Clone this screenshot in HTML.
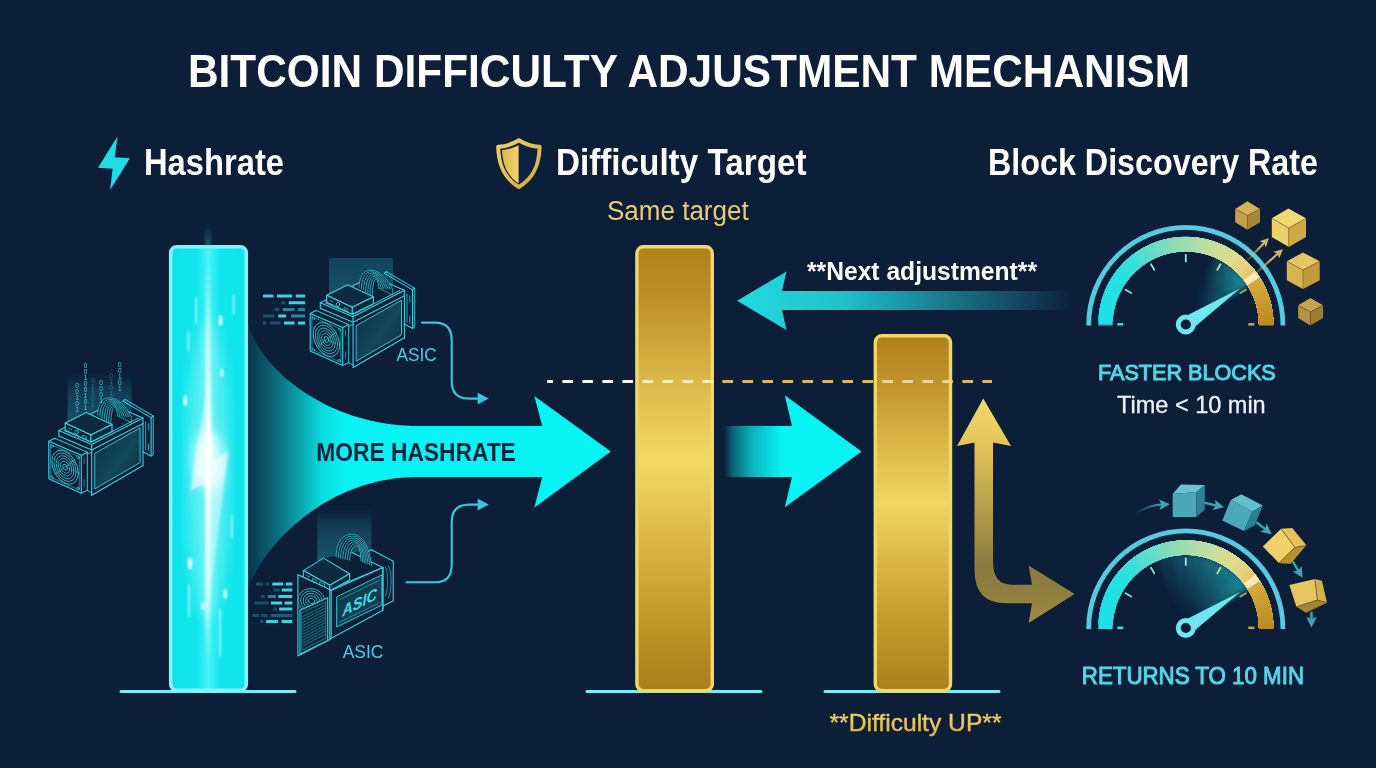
<!DOCTYPE html>
<html lang="en">
<head>
<meta charset="utf-8">
<title>Bitcoin Difficulty Adjustment Mechanism</title>
<style>
html,body{margin:0;padding:0;background:#0c1e38;}
body{width:1376px;height:768px;overflow:hidden;font-family:"Liberation Sans",sans-serif;}
svg{display:block;position:absolute;left:0;top:0;}
text{font-family:"Liberation Sans",sans-serif;}
.b{font-weight:bold;}
.w{fill:#ffffff;}
</style>
</head>
<body>
<svg width="1376" height="768" viewBox="0 0 1376 768">
<defs>
<radialGradient id="bg" cx="50%" cy="50%" r="75%">
<stop offset="0" stop-color="#0d203b"/><stop offset="1" stop-color="#0b1c34"/>
</radialGradient>
<linearGradient id="cyP" x1="0" x2="1" y1="0" y2="0">
<stop offset="0" stop-color="#0be2ea"/><stop offset="0.36" stop-color="#14e7ee"/><stop offset="0.5" stop-color="#4af3f6"/><stop offset="0.64" stop-color="#14e7ee"/><stop offset="1" stop-color="#0be2ea"/>
</linearGradient>
<linearGradient id="gold1" x1="0" x2="0" y1="0" y2="1">
<stop offset="0" stop-color="#b0801a"/><stop offset="0.12" stop-color="#bf9029"/><stop offset="0.305" stop-color="#dcb84a"/><stop offset="0.48" stop-color="#f3d964"/><stop offset="0.62" stop-color="#e0be4e"/><stop offset="0.79" stop-color="#c8a030"/><stop offset="0.92" stop-color="#b48a22"/><stop offset="1" stop-color="#aa7e1c"/>
</linearGradient>
<linearGradient id="gold2" x1="0" x2="0" y1="0" y2="1">
<stop offset="0" stop-color="#b0801a"/><stop offset="0.14" stop-color="#c2942c"/><stop offset="0.3" stop-color="#dab548"/><stop offset="0.47" stop-color="#f1d661"/><stop offset="0.62" stop-color="#dcb949"/><stop offset="0.8" stop-color="#c49c2e"/><stop offset="1" stop-color="#ab7f1c"/>
</linearGradient>

<linearGradient id="funG" gradientUnits="userSpaceOnUse" x1="248" x2="345" y1="0" y2="0">
<stop offset="0" stop-color="#08f3f4" stop-opacity="0.10"/><stop offset="0.35" stop-color="#08f3f4" stop-opacity="0.42"/><stop offset="0.75" stop-color="#08f3f4" stop-opacity="0.88"/><stop offset="1" stop-color="#08f3f4" stop-opacity="1"/>
</linearGradient>
<linearGradient id="midG" gradientUnits="userSpaceOnUse" x1="724" x2="782" y1="0" y2="0">
<stop offset="0" stop-color="#08f3f4" stop-opacity="0"/><stop offset="0.15" stop-color="#08f3f4" stop-opacity="0.32"/><stop offset="0.5" stop-color="#08f3f4" stop-opacity="0.72"/><stop offset="1" stop-color="#08f3f4" stop-opacity="1"/>
</linearGradient>
<linearGradient id="nextG" gradientUnits="userSpaceOnUse" x1="738" x2="1082" y1="0" y2="0">
<stop offset="0" stop-color="#22d9df" stop-opacity="1"/><stop offset="0.3" stop-color="#21cdd6" stop-opacity="0.94"/><stop offset="0.55" stop-color="#22bcc8" stop-opacity="0.66"/><stop offset="0.8" stop-color="#24b4c2" stop-opacity="0.30"/><stop offset="0.98" stop-color="#24b4c2" stop-opacity="0"/>
</linearGradient>
<linearGradient id="goldA" gradientUnits="userSpaceOnUse" x1="0" x2="0" y1="399" y2="625">
<stop offset="0" stop-color="#f3d96b"/><stop offset="0.22" stop-color="#e2c259"/><stop offset="0.5" stop-color="#b49b49"/><stop offset="0.74" stop-color="#8a7a3f"/><stop offset="0.86" stop-color="#8f7e3f"/><stop offset="1" stop-color="#a28c42"/>
</linearGradient>
<!--GDEFS_START-->
<filter id="blur3" x="-30%" y="-30%" width="160%" height="160%"><feGaussianBlur stdDeviation="3"/></filter>
<radialGradient id="g1W" gradientUnits="userSpaceOnUse" cx="1185.800" cy="324.500" r="76">
<stop offset="0.2" stop-color="#1b93a3" stop-opacity="0"/><stop offset="0.6" stop-color="#1b93a3" stop-opacity="0.35"/><stop offset="1" stop-color="#23a9b8" stop-opacity="0.85"/>
</radialGradient>
<radialGradient id="g2W" gradientUnits="userSpaceOnUse" cx="1185.800" cy="628" r="76">
<stop offset="0.15" stop-color="#1b93a3" stop-opacity="0"/><stop offset="0.55" stop-color="#1b93a3" stop-opacity="0.40"/><stop offset="1" stop-color="#23a9b8" stop-opacity="0.80"/>
</radialGradient>
<!--GDEFS_END-->
<!--CDEFS_START-->
<linearGradient id="ga1" gradientUnits="userSpaceOnUse" x1="1247" y1="260" x2="1262" y2="245"><stop offset="0" stop-color="#d2b662" stop-opacity="0.15"/><stop offset="1" stop-color="#d2b662" stop-opacity="1"/></linearGradient>
<linearGradient id="ga2" gradientUnits="userSpaceOnUse" x1="1256" y1="273" x2="1272" y2="259"><stop offset="0" stop-color="#d2b662" stop-opacity="0.25"/><stop offset="1" stop-color="#d2b662" stop-opacity="1"/></linearGradient>
<linearGradient id="ta0" gradientUnits="userSpaceOnUse" x1="1135" y1="0" x2="1162" y2="0"><stop offset="0" stop-color="#3ba6ba" stop-opacity="0"/><stop offset="1" stop-color="#3ba6ba" stop-opacity="1"/></linearGradient>
<!--CDEFS_END-->

<filter id="blur1" x="-50%" y="-10%" width="200%" height="120%"><feGaussianBlur stdDeviation="1"/></filter>
<filter id="blur2" x="-50%" y="-10%" width="200%" height="120%"><feGaussianBlur stdDeviation="2"/></filter>
<filter id="blur6" x="-50%" y="-50%" width="200%" height="200%"><feGaussianBlur stdDeviation="6"/></filter>
<linearGradient id="coreG" x1="0" x2="0" y1="0" y2="1">
<stop offset="0" stop-color="#fff" stop-opacity="0"/><stop offset="0.2" stop-color="#fff" stop-opacity="0.55"/><stop offset="0.5" stop-color="#fff" stop-opacity="1"/><stop offset="0.8" stop-color="#fff" stop-opacity="0.55"/><stop offset="1" stop-color="#fff" stop-opacity="0"/>
</linearGradient>
<linearGradient id="topGlow" x1="0" x2="0" y1="0" y2="1">
<stop offset="0" stop-color="#3fd8e0" stop-opacity="0"/><stop offset="1" stop-color="#3fd8e0" stop-opacity="0.32"/>
</linearGradient>
<clipPath id="pillClip"><rect x="172" y="248" width="72.500" height="439" rx="6"/></clipPath>

<linearGradient id="shG" x1="0" x2="1" y1="0" y2="1"><stop offset="0" stop-color="#f0d068"/><stop offset="1" stop-color="#d6aa40"/></linearGradient>
<linearGradient id="shF" x1="0" x2="1" y1="0" y2="0"><stop offset="0" stop-color="#deb64a"/><stop offset="1" stop-color="#f2d46c"/></linearGradient>
<!--MDEFS_START-->
<linearGradient id="m1side" x1="0" x2="1" y1="0" y2="1"><stop offset="0" stop-color="#0d2c40"/><stop offset="0.55" stop-color="#12485a"/><stop offset="1" stop-color="#0d2c40"/></linearGradient>
<linearGradient id="m3side" x1="0" x2="1" y1="0" y2="1"><stop offset="0" stop-color="#0d2c40"/><stop offset="0.55" stop-color="#114254"/><stop offset="1" stop-color="#0d2c40"/></linearGradient>
<clipPath id="m3fanclip"><polygon points="298.500,576 329,590.500 329,597 300.500,609.800 298.500,609.800"/></clipPath>
<linearGradient id="beamG" x1="0" x2="0" y1="0" y2="1"><stop offset="0" stop-color="#1c7a8c" stop-opacity="0.40"/><stop offset="1" stop-color="#1c7a8c" stop-opacity="0.62"/></linearGradient>
<linearGradient id="beamG2" x1="0" x2="0" y1="0" y2="1"><stop offset="0" stop-color="#1c7a8c" stop-opacity="0.0"/><stop offset="0.3" stop-color="#1c7a8c" stop-opacity="0.34"/><stop offset="1" stop-color="#1c7a8c" stop-opacity="0.66"/></linearGradient>
<!--MDEFS_END-->
<linearGradient id="txtGold" gradientUnits="userSpaceOnUse" x1="0" x2="0" y1="712" y2="736"><stop offset="0" stop-color="#f2da7c"/><stop offset="1" stop-color="#d8ae40"/></linearGradient>
<linearGradient id="dashG" gradientUnits="userSpaceOnUse" x1="547" x2="992" y1="0" y2="0">
<stop offset="0" stop-color="#f4f5f6"/><stop offset="0.197" stop-color="#f4f5f6"/><stop offset="0.198" stop-color="#fbf0b4"/><stop offset="0.375" stop-color="#fbf0b4"/><stop offset="0.376" stop-color="#d8b85c"/><stop offset="0.733" stop-color="#d8b85c"/><stop offset="0.734" stop-color="#ecd690"/><stop offset="0.910" stop-color="#ecd690"/><stop offset="0.911" stop-color="#d8b85c"/><stop offset="1" stop-color="#d8b85c"/>
</linearGradient>
<linearGradient id="boltG" gradientUnits="userSpaceOnUse" x1="0" x2="0" y1="372" y2="640"><stop offset="0" stop-color="#fff" stop-opacity="0.12"/><stop offset="0.2" stop-color="#fff" stop-opacity="0.42"/><stop offset="0.36" stop-color="#fff" stop-opacity="0.62"/><stop offset="0.55" stop-color="#fff" stop-opacity="0.45"/><stop offset="1" stop-color="#fff" stop-opacity="0.25"/></linearGradient>
<!--DEFS-->
</defs>
<rect width="1376" height="768" fill="#0c1e38"/>

<!-- base lines -->
<g stroke="#78ecf5" stroke-width="3" stroke-linecap="round">
<line x1="121" y1="691.500" x2="295" y2="691.500"/>
<line x1="587" y1="691.500" x2="761" y2="691.500"/>
<line x1="825" y1="691.500" x2="999" y2="691.500"/>
</g>

<!-- funnel arrow -->
<path d="M248,323 C259.900,369.200 326.600,423.600 412,425.900 L542.300,425.900 L534.300,396 L610.800,451.600 L534.300,507.600 L542.300,477 L415,477 C330.800,478.100 266.500,539.400 248,588 Z" fill="url(#funG)"/>
<!--FUNNEL-->

<!-- cyan pillar -->
<g id="cyanPillar">
<rect x="170.700" y="246.700" width="75.600" height="443.500" rx="6" fill="url(#cyP)" stroke="#80f5f9" stroke-width="3.600"/>
<rect x="205" y="226" width="6" height="20" fill="url(#topGlow)" filter="url(#blur1)"/>
<g clip-path="url(#pillClip)">
<ellipse cx="208" cy="470" rx="22" ry="150" fill="#b8fbfc" opacity="0.38" filter="url(#blur6)"/>
<ellipse cx="208.500" cy="460" rx="15" ry="30" fill="#ffffff" opacity="0.75" filter="url(#blur6)"/>
<polygon points="209,372 190,491.500 205.600,482.400 205,640 228.200,450.600 213.400,460.300 211,372" fill="url(#boltG)" filter="url(#blur1)"/>
<rect x="205.500" y="262" width="5" height="400" fill="url(#coreG)" filter="url(#blur1)"/>
<g fill="#ffffff" filter="url(#blur1)" opacity="0.9">
<ellipse cx="220.600" cy="320.600" rx="1.800" ry="5.500"/>
<ellipse cx="185.300" cy="400.600" rx="2" ry="5.500"/>
<ellipse cx="221.900" cy="373" rx="1.400" ry="4"/>
<ellipse cx="190" cy="563.400" rx="2.200" ry="6"/>
<ellipse cx="225.200" cy="593.900" rx="1.800" ry="4.500"/>
<ellipse cx="203.200" cy="606.400" rx="1.600" ry="3.500"/>
</g>
<g stroke="#d8fefe" stroke-width="1.600" stroke-linecap="round" filter="url(#blur1)" opacity="0.8">
<line x1="196.200" y1="298" x2="196.200" y2="323"/>
<line x1="233.700" y1="295" x2="233.700" y2="314"/>
<line x1="188.400" y1="332" x2="188.400" y2="351"/>
<line x1="232" y1="516" x2="232" y2="538"/>
<line x1="189" y1="585" x2="189" y2="616"/>
<line x1="220" y1="609" x2="220" y2="656"/>
</g>
</g>
<!--PILLARFX-->
</g>

<!-- gold pillars -->
<rect x="636.900" y="246.700" width="75.400" height="444" rx="6.500" fill="url(#gold1)" stroke="#f3d668" stroke-width="3.400"/>
<rect x="875.300" y="335.700" width="75.200" height="355" rx="6.500" fill="url(#gold2)" stroke="#f3d668" stroke-width="3.400"/>

<!-- middle arrow -->
<path d="M724,426 L792,426 L784.800,395.200 L861.500,451.500 L784.800,507.300 L792,477 L724,477 Z" fill="url(#midG)"/>
<!-- next adjustment arrow -->
<path d="M737.100,300.700 L786.500,271.400 L782,291.100 L1095,291.100 L1095,310.100 L782,310.100 L786.500,330 Z" fill="url(#nextG)"/>
<!-- gold L arrow -->
<path d="M983.300,398.600 L1011,446 L993,442.600 L993,562 Q993,584.700 1012,584.700 L1032,584.700 L1028.600,565.400 L1074.600,594 L1028.600,623 L1032,603.300 L1006,603.300 Q974.500,603.300 974.500,570 L974.500,442.600 L957,446 Z" fill="url(#goldA)"/>
<!--ARROWS-->
<!-- dashed target line -->
<line x1="547.200" y1="381.400" x2="992" y2="381.400" stroke="url(#dashG)" stroke-width="3" stroke-dasharray="10.700 9.300" stroke-dashoffset="4.800"/>
<!--DASH-->
<!--MINERS_START-->
<rect x="329" y="258" width="64" height="50" fill="url(#beamG)"/>
<g fill="none" stroke="#35d3e2" stroke-width="1.100" stroke-linejoin="round" stroke-linecap="round">
<path d="M320.3,302.7 L371.6,276.2 L404.4,290.2 L404.4,337.8 L353.1,367.5 L320.3,353.5 Z" fill="#0c2038" stroke="none"/>
<path d="M384.4,273.4 L412.5,289.9 L412.5,328.4 L404.4,324.0"/>
<path d="M386.5,271.8 L414.6,288.3 L414.6,326.8 L412.5,328.4" opacity="0.8"/>
<path d="M384.4,273.4 L386.5,271.8"/>
<path d="M412.5,289.9 L414.6,288.3"/>
<path d="M407.0,294.0 L407.0,322.0" opacity="0.7"/>
<path d="M409.8,296.0 L409.8,302.0" opacity="0.7"/>
<path d="M409.8,316.0 L409.8,323.0" opacity="0.7"/>
<path d="M320.3,302.7 L353.1,316.7 L404.4,290.2 L371.6,276.2 Z"/>
<path d="M325.5,302.9 L353.1,314.4 L399.6,290.4" opacity="0.8"/>
<path d="M320.3,308.2 L353.1,322.2 L404.4,295.7"/>
<path d="M320.3,302.7 L320.3,308.2"/>
<path d="M353.1,316.7 L353.1,367.5"/>
<path d="M404.4,290.2 L404.4,337.8"/>
<path d="M353.1,367.5 L404.4,337.8"/>
<path d="M356.5,325.5 L401.5,300.2 L401.5,334.8 L356.5,361.0 Z" fill="url(#m1side)" stroke-width="0.900"/>
<path d="M359.0,287.2 C359.3,276.9 363.5,270.1 370.3,270.1 C380.4,270.3 387.1,278.7 392.7,289.2 L379.0,288.2 C378.3,283.4 377.4,279.6 376.1,279.4 C373.8,279.4 372.5,286.0 372.2,296.0 Z" fill="#0d2a3e" stroke="none"/>
<path d="M359.0,287.2 C359.3,276.9 363.5,270.1 370.3,270.1 C380.4,270.3 387.1,278.7 392.7,289.2" stroke-width="0.800" opacity="0.9"/>
<path d="M361.2,288.7 C361.5,278.5 365.2,271.7 371.3,271.7 C379.9,271.9 385.6,279.5 390.4,289.0" stroke-width="0.800" opacity="0.9"/>
<path d="M363.4,290.1 C363.7,280.0 366.9,273.2 372.2,273.2 C379.4,273.4 384.2,280.2 388.1,288.9" stroke-width="0.800" opacity="0.9"/>
<path d="M365.6,291.6 C365.9,281.5 368.6,274.8 373.2,274.8 C378.9,274.9 382.7,281.0 385.8,288.7" stroke-width="0.800" opacity="0.9"/>
<path d="M367.8,293.1 C368.1,283.0 370.3,276.3 374.2,276.3 C378.4,276.5 381.2,281.8 383.6,288.5" stroke-width="0.800" opacity="0.9"/>
<path d="M370.0,294.5 C370.3,284.5 372.1,277.9 375.1,277.9 C377.9,278.1 379.7,282.6 381.3,288.4" stroke-width="0.800" opacity="0.9"/>
<path d="M372.2,296.0 C372.5,286.0 373.8,279.4 376.1,279.4 C377.4,279.6 378.3,283.4 379.0,288.2" stroke-width="0.800" opacity="0.9"/>
<path d="M379.0,288.2 L392.7,295.0 L392.7,289.2" stroke-width="0.800" opacity="0.8"/>
<path d="M326.6,295.3 L347.7,284.8 L373.4,296.8 L352.3,307.3 Z" fill="#0e2a40"/>
<path d="M326.6,295.3 L352.3,307.3 L352.3,314.3 L326.6,302.3 Z" fill="#0c2238"/>
<path d="M352.3,307.3 L373.4,296.8 L373.4,303.8 L352.3,314.3 Z" fill="#0d2840"/>
<ellipse cx="338" cy="304.500" rx="1.800" ry="2" stroke-width="0.800"/>
<path d="M344.5,307.5 L348.0,309.1 L348.0,311.5 L344.5,309.9 Z" stroke-width="0.700"/>
<path d="M330.0,300.5 L333.0,301.9" stroke-width="0.700"/>
<path d="M316.2,310.6 L348.7,324.5 L348.7,362.5 L342.7,365.5" opacity="0.85"/>
<path d="M310.2,313.6 L316.2,310.6"/>
<path d="M342.7,327.5 L348.7,324.5"/>
<path d="M348.7,326.5 L353.1,324.3" opacity="0.7"/>
<path d="M348.7,362.5 L353.1,365.2" opacity="0.7"/>
<path d="M310.2,313.6 L342.7,327.5 L342.7,365.5 L310.2,351.0 Z" fill="#0c2038"/>
<path d="M312.2,316.8 L340.7,329.0 L340.7,362.3 L312.2,349.6 Z" stroke-width="0.700" opacity="0.75"/>
<g transform="matrix(1,0.427,0,1,326.450,339.500)" stroke-width="0.800">
<ellipse cx="0" cy="0" rx="13.2" ry="16.0" opacity="1.00"/>
<ellipse cx="0" cy="0" rx="11.1" ry="13.5" opacity="0.90"/>
<ellipse cx="0" cy="0" rx="8.9" ry="10.9" opacity="0.90"/>
<ellipse cx="0" cy="0" rx="6.8" ry="8.3" opacity="0.85"/>
<ellipse cx="0" cy="0" rx="4.7" ry="5.7" opacity="0.85"/>
<ellipse cx="0" cy="0" rx="2.3" ry="2.8" opacity="1.00"/>
<path d="M-9.500,11.500 L9.500,-11.500" stroke-width="0.700" opacity="0.8"/>
<circle cx="-13" cy="-15.500" r="1.200" stroke-width="0.600"/><circle cx="13" cy="-15.500" r="1.200" stroke-width="0.600"/><circle cx="-13" cy="15.500" r="1.200" stroke-width="0.600"/><circle cx="13" cy="15.500" r="1.200" stroke-width="0.600"/>
</g>
<path d="M345.5,330.0 L345.5,336.0" stroke-width="0.700" opacity="0.7"/>
<path d="M345.5,352.0 L345.5,359.0" stroke-width="0.700" opacity="0.7"/>
</g>
<rect x="262.9" y="294.5" width="10.5" height="3.0" rx="0.600" fill="#3fdce8" opacity="0.95"/>
<rect x="276.9" y="294.5" width="15.3" height="3.0" rx="0.600" fill="#3fdce8" opacity="0.95"/>
<rect x="295.7" y="294.5" width="9.4" height="3.0" rx="0.600" fill="#3fdce8" opacity="0.95"/>
<rect x="281.6" y="301.3" width="3.5" height="3.0" rx="0.600" fill="#3fdce8" opacity="0.28"/>
<rect x="288.7" y="301.3" width="16.4" height="3.0" rx="0.600" fill="#3fdce8" opacity="0.95"/>
<rect x="274.6" y="307.9" width="4.7" height="3.0" rx="0.600" fill="#3fdce8" opacity="0.28"/>
<rect x="282.8" y="307.9" width="11.7" height="3.0" rx="0.600" fill="#3fdce8" opacity="0.55"/>
<rect x="298.0" y="307.9" width="7.1" height="3.0" rx="0.600" fill="#3fdce8" opacity="0.55"/>
<rect x="262.9" y="314.5" width="11.7" height="3.0" rx="0.600" fill="#3fdce8" opacity="0.28"/>
<rect x="278.1" y="314.5" width="8.2" height="3.0" rx="0.600" fill="#3fdce8" opacity="0.95"/>
<rect x="291.0" y="314.5" width="14.1" height="3.0" rx="0.600" fill="#3fdce8" opacity="0.55"/>
<rect x="262.9" y="321.5" width="3.5" height="3.0" rx="0.600" fill="#3fdce8" opacity="0.28"/>
<rect x="269.9" y="321.5" width="10.6" height="3.0" rx="0.600" fill="#3fdce8" opacity="0.28"/>
<rect x="284.0" y="321.5" width="10.5" height="3.0" rx="0.600" fill="#3fdce8" opacity="0.95"/>
<rect x="298.0" y="321.5" width="7.1" height="3.0" rx="0.600" fill="#3fdce8" opacity="0.95"/>
<g transform="translate(-261.400,127.700)">
<rect x="329" y="246" width="64" height="62" fill="url(#beamG2)"/>
<g fill="none" stroke="#35d3e2" stroke-width="1.100" stroke-linejoin="round" stroke-linecap="round">
<path d="M320.3,302.7 L371.6,276.2 L404.4,290.2 L404.4,337.8 L353.1,367.5 L320.3,353.5 Z" fill="#0c2038" stroke="none"/>
<path d="M384.4,273.4 L412.5,289.9 L412.5,328.4 L404.4,324.0"/>
<path d="M386.5,271.8 L414.6,288.3 L414.6,326.8 L412.5,328.4" opacity="0.8"/>
<path d="M384.4,273.4 L386.5,271.8"/>
<path d="M412.5,289.9 L414.6,288.3"/>
<path d="M407.0,294.0 L407.0,322.0" opacity="0.7"/>
<path d="M409.8,296.0 L409.8,302.0" opacity="0.7"/>
<path d="M409.8,316.0 L409.8,323.0" opacity="0.7"/>
<path d="M320.3,302.7 L353.1,316.7 L404.4,290.2 L371.6,276.2 Z"/>
<path d="M325.5,302.9 L353.1,314.4 L399.6,290.4" opacity="0.8"/>
<path d="M320.3,308.2 L353.1,322.2 L404.4,295.7"/>
<path d="M320.3,302.7 L320.3,308.2"/>
<path d="M353.1,316.7 L353.1,367.5"/>
<path d="M404.4,290.2 L404.4,337.8"/>
<path d="M353.1,367.5 L404.4,337.8"/>
<path d="M356.5,325.5 L401.5,300.2 L401.5,334.8 L356.5,361.0 Z" fill="url(#m1side)" stroke-width="0.900"/>
<path d="M359.0,287.2 C359.3,276.9 363.5,270.1 370.3,270.1 C380.4,270.3 387.1,278.7 392.7,289.2 L379.0,288.2 C378.3,283.4 377.4,279.6 376.1,279.4 C373.8,279.4 372.5,286.0 372.2,296.0 Z" fill="#0d2a3e" stroke="none"/>
<path d="M359.0,287.2 C359.3,276.9 363.5,270.1 370.3,270.1 C380.4,270.3 387.1,278.7 392.7,289.2" stroke-width="0.800" opacity="0.9"/>
<path d="M361.2,288.7 C361.5,278.5 365.2,271.7 371.3,271.7 C379.9,271.9 385.6,279.5 390.4,289.0" stroke-width="0.800" opacity="0.9"/>
<path d="M363.4,290.1 C363.7,280.0 366.9,273.2 372.2,273.2 C379.4,273.4 384.2,280.2 388.1,288.9" stroke-width="0.800" opacity="0.9"/>
<path d="M365.6,291.6 C365.9,281.5 368.6,274.8 373.2,274.8 C378.9,274.9 382.7,281.0 385.8,288.7" stroke-width="0.800" opacity="0.9"/>
<path d="M367.8,293.1 C368.1,283.0 370.3,276.3 374.2,276.3 C378.4,276.5 381.2,281.8 383.6,288.5" stroke-width="0.800" opacity="0.9"/>
<path d="M370.0,294.5 C370.3,284.5 372.1,277.9 375.1,277.9 C377.9,278.1 379.7,282.6 381.3,288.4" stroke-width="0.800" opacity="0.9"/>
<path d="M372.2,296.0 C372.5,286.0 373.8,279.4 376.1,279.4 C377.4,279.6 378.3,283.4 379.0,288.2" stroke-width="0.800" opacity="0.9"/>
<path d="M379.0,288.2 L392.7,295.0 L392.7,289.2" stroke-width="0.800" opacity="0.8"/>
<path d="M326.6,295.3 L347.7,284.8 L373.4,296.8 L352.3,307.3 Z" fill="#0e2a40"/>
<path d="M326.6,295.3 L352.3,307.3 L352.3,314.3 L326.6,302.3 Z" fill="#0c2238"/>
<path d="M352.3,307.3 L373.4,296.8 L373.4,303.8 L352.3,314.3 Z" fill="#0d2840"/>
<ellipse cx="338" cy="304.500" rx="1.800" ry="2" stroke-width="0.800"/>
<path d="M344.5,307.5 L348.0,309.1 L348.0,311.5 L344.5,309.9 Z" stroke-width="0.700"/>
<path d="M330.0,300.5 L333.0,301.9" stroke-width="0.700"/>
<path d="M316.2,310.6 L348.7,324.5 L348.7,362.5 L342.7,365.5" opacity="0.85"/>
<path d="M310.2,313.6 L316.2,310.6"/>
<path d="M342.7,327.5 L348.7,324.5"/>
<path d="M348.7,326.5 L353.1,324.3" opacity="0.7"/>
<path d="M348.7,362.5 L353.1,365.2" opacity="0.7"/>
<path d="M310.2,313.6 L342.7,327.5 L342.7,365.5 L310.2,351.0 Z" fill="#0c2038"/>
<path d="M312.2,316.8 L340.7,329.0 L340.7,362.3 L312.2,349.6 Z" stroke-width="0.700" opacity="0.75"/>
<g transform="matrix(1,0.427,0,1,326.450,339.500)" stroke-width="0.800">
<ellipse cx="0" cy="0" rx="13.2" ry="16.0" opacity="1.00"/>
<ellipse cx="0" cy="0" rx="11.1" ry="13.5" opacity="0.90"/>
<ellipse cx="0" cy="0" rx="8.9" ry="10.9" opacity="0.90"/>
<ellipse cx="0" cy="0" rx="6.8" ry="8.3" opacity="0.85"/>
<ellipse cx="0" cy="0" rx="4.7" ry="5.7" opacity="0.85"/>
<ellipse cx="0" cy="0" rx="2.3" ry="2.8" opacity="1.00"/>
<path d="M-9.500,11.500 L9.500,-11.500" stroke-width="0.700" opacity="0.8"/>
<circle cx="-13" cy="-15.500" r="1.200" stroke-width="0.600"/><circle cx="13" cy="-15.500" r="1.200" stroke-width="0.600"/><circle cx="-13" cy="15.500" r="1.200" stroke-width="0.600"/><circle cx="13" cy="15.500" r="1.200" stroke-width="0.600"/>
</g>
<path d="M345.5,330.0 L345.5,336.0" stroke-width="0.700" opacity="0.7"/>
<path d="M345.5,352.0 L345.5,359.0" stroke-width="0.700" opacity="0.7"/>
</g>
</g>
<g font-size="6.500" fill="#5fdfe8" text-anchor="middle">
<text opacity="0.85"><tspan x="77.0" y="388.0">0</tspan><tspan x="77.0" y="394.0">0</tspan><tspan x="77.0" y="400.0">1</tspan><tspan x="77.0" y="406.0">0</tspan><tspan x="77.0" y="412.0">1</tspan></text>
<text opacity="0.90"><tspan x="85.6" y="368.0">0</tspan><tspan x="85.6" y="374.0">0</tspan><tspan x="85.6" y="380.0">1</tspan><tspan x="85.6" y="386.0">0</tspan><tspan x="85.6" y="392.0">0</tspan><tspan x="85.6" y="398.0">1</tspan><tspan x="85.6" y="404.0">0</tspan><tspan x="85.6" y="410.0">1</tspan></text>
<text opacity="0.35"><tspan x="92.8" y="382.5">0</tspan><tspan x="92.8" y="388.5">1</tspan><tspan x="92.8" y="394.5">1</tspan><tspan x="92.8" y="400.5">0</tspan><tspan x="92.8" y="406.5">1</tspan></text>
<text opacity="0.85"><tspan x="101.0" y="385.0">0</tspan><tspan x="101.0" y="391.0">0</tspan><tspan x="101.0" y="397.0">0</tspan><tspan x="101.0" y="403.0">1</tspan></text>
<text opacity="0.35"><tspan x="111.0" y="378.0">0</tspan><tspan x="111.0" y="384.0">1</tspan><tspan x="111.0" y="390.0">0</tspan><tspan x="111.0" y="396.0">1</tspan></text>
<text opacity="0.90"><tspan x="119.8" y="367.0">0</tspan><tspan x="119.8" y="373.0">0</tspan><tspan x="119.8" y="379.0">1</tspan><tspan x="119.8" y="385.0">0</tspan><tspan x="119.8" y="391.0">1</tspan></text>
</g>
<rect x="317.300" y="509" width="54.200" height="56" fill="url(#beamG2)"/>
<g fill="none" stroke="#35d3e2" stroke-width="1.100" stroke-linejoin="round" stroke-linecap="round">
<path d="M297.9,574.8 L323.5,558.1 L371.5,549.8 L393.3,561.2 L393.3,600.8 L382.9,610.2 L331.2,638.3 L297.9,656.0 Z" fill="#0c2038" stroke="none"/>
<path d="M371.5,549.8 L393.3,561.2 L393.3,600.8 L382.9,606.0"/>
<path d="M368.5,551.5 L371.5,549.8"/>
<path d="M388.500,566 C392,572 392,590 388.500,598" stroke-width="0.800" opacity="0.8"/>
<path d="M385.500,567 C388.500,574 388.500,588 385.500,596" stroke-width="0.800" opacity="0.7"/>
<path d="M297.9,574.8 L329.8,589.4 L382.9,567.5 L352.0,552.5"/>
<path d="M382.9,567.5 L382.9,610.2"/>
<path d="M336.0,557.0 C336.5,542.2 342.3,534.2 351.7,534.2 C362.6,534.4 369.5,546.7 371.5,565.4 L361.0,561.2 C360.6,551.8 359.2,545.8 356.9,545.6 C352.5,545.6 350.1,550.7 349.6,560.2 Z" fill="#0d2a3e" stroke="none"/>
<path d="M336.0,557.0 C336.5,542.2 342.3,534.2 351.7,534.2 C362.6,534.4 369.5,546.7 371.5,565.4" stroke-width="0.800" opacity="0.9"/>
<path d="M338.3,557.5 C338.8,543.6 344.0,536.1 352.6,536.1 C362.0,536.3 368.0,547.5 369.8,564.7" stroke-width="0.800" opacity="0.9"/>
<path d="M340.5,558.1 C341.0,545.0 345.7,538.0 353.4,538.0 C361.4,538.2 366.5,548.4 368.0,564.0" stroke-width="0.800" opacity="0.9"/>
<path d="M342.8,558.6 C343.3,546.4 347.4,539.9 354.3,539.9 C360.9,540.1 365.1,549.3 366.2,563.3" stroke-width="0.800" opacity="0.9"/>
<path d="M345.1,559.1 C345.6,547.9 349.1,541.8 355.2,541.8 C360.3,542.0 363.6,550.1 364.5,562.6" stroke-width="0.800" opacity="0.9"/>
<path d="M347.3,559.7 C347.8,549.3 350.8,543.7 356.0,543.7 C359.7,543.9 362.1,551.0 362.8,561.9" stroke-width="0.800" opacity="0.9"/>
<path d="M349.6,560.2 C350.1,550.7 352.5,545.6 356.9,545.6 C359.2,545.8 360.6,551.8 361.0,561.2" stroke-width="0.800" opacity="0.9"/>
<path d="M331.2,590.4 L382.9,567.5 L382.9,610.2 L331.2,638.3 Z"/>
<path d="M337.0,596.7 L381.9,574.8 L381.9,605.0 L337.0,626.9 Z" fill="url(#m3side)" stroke-width="0.900"/>
<path d="M340.0,599.5 L379.0,580.5" stroke-width="0.700" opacity="0.7"/>
<path d="M340.0,622.0 L379.0,603.0" stroke-width="0.700" opacity="0.7"/>
<path d="M303.3,570.6 L323.5,558.1 L349.6,573.8 L329.8,585.2 Z" fill="#0e2a40"/>
<path d="M303.3,570.6 L329.8,585.2 L329.8,590.8 L303.3,576.9 Z" fill="#0c2238"/>
<path d="M329.8,585.2 L349.6,573.8 L349.6,580.0 L329.8,590.8 Z" fill="#0d2840"/>
<path d="M313.0,578.5 L316.0,580.0 L316.0,583.0 L313.0,581.5 Z" stroke-width="0.700"/>
<path d="M320.0,582.0 L324.5,584.3 L324.5,587.0 L320.0,584.7 Z" stroke-width="0.700"/>
<path d="M306.5,575.5 L309.5,577.0" stroke-width="0.700"/>
<path d="M297.9,574.8 L329.8,589.4 L329.8,639.4 L297.9,656.0 Z" fill="#0c2038"/>
<path d="M329.8,589.4 L331.2,590.4"/>
<path d="M329.8,639.4 L331.2,638.3"/>
<g clip-path="url(#m3fanclip)" stroke-width="0.800" opacity="0.9">
<ellipse cx="311.500" cy="601" rx="3.2" ry="2.8" transform="rotate(20 311.500 601)"/>
<ellipse cx="311.500" cy="601" rx="5.8" ry="5.2" transform="rotate(20 311.500 601)"/>
<ellipse cx="311.500" cy="601" rx="8.4" ry="7.6" transform="rotate(20 311.500 601)"/>
<ellipse cx="311.500" cy="601" rx="11.0" ry="10.0" transform="rotate(20 311.500 601)"/>
<ellipse cx="311.500" cy="601" rx="13.7" ry="12.3" transform="rotate(20 311.500 601)"/>
</g>
<path d="M300.0,610.2 L327.7,597.7 L327.7,640.4 L300.0,654.0 Z" fill="#0d2a3e"/>
<path d="M302.0,612.5 L325.7,601.8 L325.7,638.3 L302.0,650.0 Z" stroke-width="0.600" opacity="0.7"/>
<path d="M303,616.5 L324.700,605.7" stroke-width="0.600" opacity="0.75" stroke-dasharray="3.200 1.100"/>
<path d="M303,619.4 L324.700,608.5" stroke-width="0.600" opacity="0.75" stroke-dasharray="3.200 1.100"/>
<path d="M303,622.4 L324.700,611.4" stroke-width="0.600" opacity="0.75" stroke-dasharray="3.200 1.100"/>
<path d="M303,625.3 L324.700,614.3" stroke-width="0.600" opacity="0.75" stroke-dasharray="3.200 1.100"/>
<path d="M303,628.3 L324.700,617.2" stroke-width="0.600" opacity="0.75" stroke-dasharray="3.200 1.100"/>
<path d="M303,631.2 L324.700,620.0" stroke-width="0.600" opacity="0.75" stroke-dasharray="3.200 1.100"/>
<path d="M303,634.2 L324.700,622.9" stroke-width="0.600" opacity="0.75" stroke-dasharray="3.200 1.100"/>
<path d="M303,637.2 L324.700,625.8" stroke-width="0.600" opacity="0.75" stroke-dasharray="3.200 1.100"/>
<path d="M303,640.1 L324.700,628.7" stroke-width="0.600" opacity="0.75" stroke-dasharray="3.200 1.100"/>
<path d="M303,643.1 L324.700,631.5" stroke-width="0.600" opacity="0.75" stroke-dasharray="3.200 1.100"/>
<path d="M303,646.0 L324.700,634.4" stroke-width="0.600" opacity="0.75" stroke-dasharray="3.200 1.100"/>
</g>
<text class="b" transform="matrix(0.890,-0.459,0,1,342.300,616.800)" x="0" y="0" font-size="16" font-style="italic" fill="#46dbe8" textLength="39" lengthAdjust="spacingAndGlyphs">ASIC</text>
<rect x="256.1" y="582.5" width="7.4" height="3.0" rx="0.600" fill="#3fdce8" opacity="0.28"/>
<rect x="266.0" y="582.5" width="3.2" height="3.0" rx="0.600" fill="#3fdce8" opacity="0.28"/>
<rect x="272.2" y="582.5" width="11.1" height="3.0" rx="0.600" fill="#3fdce8" opacity="0.95"/>
<rect x="285.8" y="582.5" width="6.6" height="3.0" rx="0.600" fill="#3fdce8" opacity="0.95"/>
<rect x="273.4" y="588.5" width="6.2" height="3.0" rx="0.600" fill="#3fdce8" opacity="0.28"/>
<rect x="281.6" y="588.5" width="10.8" height="3.0" rx="0.600" fill="#3fdce8" opacity="0.95"/>
<rect x="261.0" y="594.9" width="3.7" height="3.0" rx="0.600" fill="#3fdce8" opacity="0.28"/>
<rect x="267.7" y="594.9" width="8.2" height="3.0" rx="0.600" fill="#3fdce8" opacity="0.55"/>
<rect x="278.3" y="594.9" width="14.1" height="3.0" rx="0.600" fill="#3fdce8" opacity="0.95"/>
<rect x="254.8" y="601.5" width="13.7" height="3.0" rx="0.600" fill="#3fdce8" opacity="0.28"/>
<rect x="270.9" y="601.5" width="11.2" height="3.0" rx="0.600" fill="#3fdce8" opacity="0.95"/>
<rect x="284.5" y="601.5" width="7.9" height="3.0" rx="0.600" fill="#3fdce8" opacity="0.95"/>
<rect x="273.4" y="607.5" width="3.7" height="3.0" rx="0.600" fill="#3fdce8" opacity="0.28"/>
<rect x="279.1" y="607.5" width="13.3" height="3.0" rx="0.600" fill="#3fdce8" opacity="0.95"/>
<rect x="252.4" y="613.9" width="6.9" height="3.0" rx="0.600" fill="#3fdce8" opacity="0.28"/>
<rect x="261.0" y="613.9" width="6.7" height="3.0" rx="0.600" fill="#3fdce8" opacity="0.28"/>
<rect x="270.9" y="613.9" width="21.5" height="3.0" rx="0.600" fill="#3fdce8" opacity="0.35"/>
<rect x="259.8" y="620.1" width="3.7" height="3.0" rx="0.600" fill="#3fdce8" opacity="0.28"/>
<rect x="266.0" y="620.1" width="12.3" height="3.0" rx="0.600" fill="#3fdce8" opacity="0.95"/>
<rect x="281.6" y="620.1" width="10.8" height="3.0" rx="0.600" fill="#3fdce8" opacity="0.95"/>
<g fill="none" stroke="#36c8dc" stroke-width="2.100" stroke-linecap="round">
<path d="M422,322.600 L435,322.600 Q451.700,322.600 451.700,340 L451.700,381.500 Q451.700,398.600 469,398.600 L479,398.600"/>
<path d="M406.500,582.300 L435,582.300 Q451.700,582.300 451.700,565 L451.700,522 Q451.700,504.600 469,504.600 L479,504.600"/>
</g>
<polygon points="488.800,398.600 477.600,392.800 477.600,404.400" fill="#36c8dc"/>
<polygon points="488.800,504.600 477.600,498.800 477.600,510.400" fill="#36c8dc"/>
<!--MINERS_END-->
<!--MINERS-->
<!--GAUGES_START-->
<g id="g1">
<path d="M1185.8,324.5 L1248.1,284.6 A74,74 0 0 0 1243.1,277.7 Z" fill="url(#g1W)" opacity="0.30" filter="url(#blur3)"/>
<path d="M1185.8,324.5 L1248.1,284.6 A74,74 0 0 0 1238.2,272.2 Z" fill="url(#g1W)" opacity="0.30" filter="url(#blur3)"/>
<path d="M1185.8,324.5 L1248.1,284.6 A74,74 0 0 0 1232.8,267.3 Z" fill="url(#g1W)" opacity="0.30" filter="url(#blur3)"/>
<path d="M1185.8,324.5 L1248.1,284.6 A74,74 0 0 0 1226.9,263.0 Z" fill="url(#g1W)" opacity="0.30" filter="url(#blur3)"/>
<path d="M1185.8,324.5 L1248.1,284.6 A74,74 0 0 0 1220.6,259.2 Z" fill="url(#g1W)" opacity="0.30" filter="url(#blur3)"/>
<path d="M1185.8,324.5 L1248.1,284.6 A74,74 0 0 0 1214.0,256.1 Z" fill="url(#g1W)" opacity="0.30" filter="url(#blur3)"/>
<path d="M1088.70,325.50 L1088.70,324.50 A97.10,97.10 0 0 1 1282.90,324.50 L1282.90,325.50" fill="none" stroke="#54cbe1" stroke-width="4.800"/>
<path d="M1098.20,324.50 A87.60,87.60 0 0 1 1273.40,324.50 L1259.00,324.50 A73.20,73.20 0 0 0 1112.60,324.50 Z" fill="#1ee0e8"/>
<path d="M1098.28,320.68 A87.60,87.60 0 0 1 1273.40,324.50 L1259.00,324.50 A73.20,73.20 0 0 0 1112.67,321.31 Z" fill="#1fe0e8"/>
<path d="M1098.53,316.87 A87.60,87.60 0 0 1 1273.40,324.50 L1259.00,324.50 A73.20,73.20 0 0 0 1112.88,318.12 Z" fill="#1fe0e7"/>
<path d="M1098.95,313.07 A87.60,87.60 0 0 1 1273.40,324.50 L1259.00,324.50 A73.20,73.20 0 0 0 1113.23,314.95 Z" fill="#20e0e7"/>
<path d="M1099.53,309.29 A87.60,87.60 0 0 1 1273.40,324.50 L1259.00,324.50 A73.20,73.20 0 0 0 1113.71,311.79 Z" fill="#20e0e7"/>
<path d="M1100.28,305.54 A87.60,87.60 0 0 1 1273.40,324.50 L1259.00,324.50 A73.20,73.20 0 0 0 1114.34,308.66 Z" fill="#21e0e7"/>
<path d="M1101.18,301.83 A87.60,87.60 0 0 1 1273.40,324.50 L1259.00,324.50 A73.20,73.20 0 0 0 1115.09,305.55 Z" fill="#21e0e6"/>
<path d="M1102.25,298.16 A87.60,87.60 0 0 1 1273.40,324.50 L1259.00,324.50 A73.20,73.20 0 0 0 1115.99,302.49 Z" fill="#22e0e6"/>
<path d="M1103.48,294.54 A87.60,87.60 0 0 1 1273.40,324.50 L1259.00,324.50 A73.20,73.20 0 0 0 1117.01,299.46 Z" fill="#22e0e6"/>
<path d="M1104.87,290.98 A87.60,87.60 0 0 1 1273.40,324.50 L1259.00,324.50 A73.20,73.20 0 0 0 1118.17,296.49 Z" fill="#23e0e6"/>
<path d="M1106.41,287.48 A87.60,87.60 0 0 1 1273.40,324.50 L1259.00,324.50 A73.20,73.20 0 0 0 1119.46,293.56 Z" fill="#23e0e5"/>
<path d="M1108.10,284.05 A87.60,87.60 0 0 1 1273.40,324.50 L1259.00,324.50 A73.20,73.20 0 0 0 1120.87,290.70 Z" fill="#24e0e5"/>
<path d="M1109.94,280.70 A87.60,87.60 0 0 1 1273.40,324.50 L1259.00,324.50 A73.20,73.20 0 0 0 1122.41,287.90 Z" fill="#26e0e4"/>
<path d="M1111.92,277.43 A87.60,87.60 0 0 1 1273.40,324.50 L1259.00,324.50 A73.20,73.20 0 0 0 1124.06,285.17 Z" fill="#28e0e3"/>
<path d="M1114.04,274.25 A87.60,87.60 0 0 1 1273.40,324.50 L1259.00,324.50 A73.20,73.20 0 0 0 1125.84,282.51 Z" fill="#2cdfe2"/>
<path d="M1116.30,271.17 A87.60,87.60 0 0 1 1273.40,324.50 L1259.00,324.50 A73.20,73.20 0 0 0 1127.73,279.94 Z" fill="#2edfe0"/>
<path d="M1118.69,268.19 A87.60,87.60 0 0 1 1273.40,324.50 L1259.00,324.50 A73.20,73.20 0 0 0 1129.73,277.45 Z" fill="#32dfdf"/>
<path d="M1121.21,265.32 A87.60,87.60 0 0 1 1273.40,324.50 L1259.00,324.50 A73.20,73.20 0 0 0 1131.83,275.05 Z" fill="#34dfdd"/>
<path d="M1123.86,262.56 A87.60,87.60 0 0 1 1273.40,324.50 L1259.00,324.50 A73.20,73.20 0 0 0 1134.04,272.74 Z" fill="#38dedc"/>
<path d="M1126.62,259.91 A87.60,87.60 0 0 1 1273.40,324.50 L1259.00,324.50 A73.20,73.20 0 0 0 1136.35,270.53 Z" fill="#3adedb"/>
<path d="M1129.49,257.39 A87.60,87.60 0 0 1 1273.40,324.50 L1259.00,324.50 A73.20,73.20 0 0 0 1138.75,268.43 Z" fill="#3fded8"/>
<path d="M1132.47,255.00 A87.60,87.60 0 0 1 1273.40,324.50 L1259.00,324.50 A73.20,73.20 0 0 0 1141.24,266.43 Z" fill="#46ded6"/>
<path d="M1135.55,252.74 A87.60,87.60 0 0 1 1273.40,324.50 L1259.00,324.50 A73.20,73.20 0 0 0 1143.81,264.54 Z" fill="#4dddd2"/>
<path d="M1138.73,250.62 A87.60,87.60 0 0 1 1273.40,324.50 L1259.00,324.50 A73.20,73.20 0 0 0 1146.47,262.76 Z" fill="#54ddd0"/>
<path d="M1142.00,248.64 A87.60,87.60 0 0 1 1273.40,324.50 L1259.00,324.50 A73.20,73.20 0 0 0 1149.20,261.11 Z" fill="#5addcc"/>
<path d="M1145.35,246.80 A87.60,87.60 0 0 1 1273.40,324.50 L1259.00,324.50 A73.20,73.20 0 0 0 1152.00,259.57 Z" fill="#61ddca"/>
<path d="M1148.78,245.11 A87.60,87.60 0 0 1 1273.40,324.50 L1259.00,324.50 A73.20,73.20 0 0 0 1154.86,258.16 Z" fill="#68dcc6"/>
<path d="M1152.28,243.57 A87.60,87.60 0 0 1 1273.40,324.50 L1259.00,324.50 A73.20,73.20 0 0 0 1157.79,256.87 Z" fill="#6fdcc4"/>
<path d="M1155.84,242.18 A87.60,87.60 0 0 1 1273.40,324.50 L1259.00,324.50 A73.20,73.20 0 0 0 1160.76,255.71 Z" fill="#75dcc1"/>
<path d="M1159.46,240.95 A87.60,87.60 0 0 1 1273.40,324.50 L1259.00,324.50 A73.20,73.20 0 0 0 1163.79,254.69 Z" fill="#7bdcbe"/>
<path d="M1163.13,239.88 A87.60,87.60 0 0 1 1273.40,324.50 L1259.00,324.50 A73.20,73.20 0 0 0 1166.85,253.79 Z" fill="#80dcbc"/>
<path d="M1166.84,238.98 A87.60,87.60 0 0 1 1273.40,324.50 L1259.00,324.50 A73.20,73.20 0 0 0 1169.96,253.04 Z" fill="#86dcb9"/>
<path d="M1170.59,238.23 A87.60,87.60 0 0 1 1273.40,324.50 L1259.00,324.50 A73.20,73.20 0 0 0 1173.09,252.41 Z" fill="#8cdcb7"/>
<path d="M1174.37,237.65 A87.60,87.60 0 0 1 1273.40,324.50 L1259.00,324.50 A73.20,73.20 0 0 0 1176.25,251.93 Z" fill="#92dcb4"/>
<path d="M1178.17,237.23 A87.60,87.60 0 0 1 1273.40,324.50 L1259.00,324.50 A73.20,73.20 0 0 0 1179.42,251.58 Z" fill="#97dcb2"/>
<path d="M1181.98,236.98 A87.60,87.60 0 0 1 1273.40,324.50 L1259.00,324.50 A73.20,73.20 0 0 0 1182.61,251.37 Z" fill="#9ddcaf"/>
<path d="M1185.80,236.90 A87.60,87.60 0 0 1 1273.40,324.50 L1259.00,324.50 A73.20,73.20 0 0 0 1185.80,251.30 Z" fill="#a2dcad"/>
<path d="M1189.62,236.98 A87.60,87.60 0 0 1 1273.40,324.50 L1259.00,324.50 A73.20,73.20 0 0 0 1188.99,251.37 Z" fill="#a8dcab"/>
<path d="M1193.43,237.23 A87.60,87.60 0 0 1 1273.40,324.50 L1259.00,324.50 A73.20,73.20 0 0 0 1192.18,251.58 Z" fill="#acdda8"/>
<path d="M1197.23,237.65 A87.60,87.60 0 0 1 1273.40,324.50 L1259.00,324.50 A73.20,73.20 0 0 0 1195.35,251.93 Z" fill="#b2dda6"/>
<path d="M1201.01,238.23 A87.60,87.60 0 0 1 1273.40,324.50 L1259.00,324.50 A73.20,73.20 0 0 0 1198.51,252.41 Z" fill="#b6dda4"/>
<path d="M1204.76,238.98 A87.60,87.60 0 0 1 1273.40,324.50 L1259.00,324.50 A73.20,73.20 0 0 0 1201.64,253.04 Z" fill="#bcdda2"/>
<path d="M1208.47,239.88 A87.60,87.60 0 0 1 1273.40,324.50 L1259.00,324.50 A73.20,73.20 0 0 0 1204.75,253.79 Z" fill="#c0de9f"/>
<path d="M1212.14,240.95 A87.60,87.60 0 0 1 1273.40,324.50 L1259.00,324.50 A73.20,73.20 0 0 0 1207.81,254.69 Z" fill="#c6de9d"/>
<path d="M1215.76,242.18 A87.60,87.60 0 0 1 1273.40,324.50 L1259.00,324.50 A73.20,73.20 0 0 0 1210.84,255.71 Z" fill="#cade9b"/>
<path d="M1219.32,243.57 A87.60,87.60 0 0 1 1273.40,324.50 L1259.00,324.50 A73.20,73.20 0 0 0 1213.81,256.87 Z" fill="#cede98"/>
<path d="M1222.82,245.11 A87.60,87.60 0 0 1 1273.40,324.50 L1259.00,324.50 A73.20,73.20 0 0 0 1216.74,258.16 Z" fill="#d2dd95"/>
<path d="M1226.25,246.80 A87.60,87.60 0 0 1 1273.40,324.50 L1259.00,324.50 A73.20,73.20 0 0 0 1219.60,259.57 Z" fill="#d6dd93"/>
<path d="M1229.60,248.64 A87.60,87.60 0 0 1 1273.40,324.50 L1259.00,324.50 A73.20,73.20 0 0 0 1222.40,261.11 Z" fill="#dadc90"/>
<path d="M1232.87,250.62 A87.60,87.60 0 0 1 1273.40,324.50 L1259.00,324.50 A73.20,73.20 0 0 0 1225.13,262.76 Z" fill="#dedc8d"/>
<path d="M1236.05,252.74 A87.60,87.60 0 0 1 1273.40,324.50 L1259.00,324.50 A73.20,73.20 0 0 0 1227.79,264.54 Z" fill="#e1db8a"/>
<path d="M1239.13,255.00 A87.60,87.60 0 0 1 1273.40,324.50 L1259.00,324.50 A73.20,73.20 0 0 0 1230.36,266.43 Z" fill="#e2d987"/>
<path d="M1242.11,257.39 A87.60,87.60 0 0 1 1273.40,324.50 L1259.00,324.50 A73.20,73.20 0 0 0 1232.85,268.43 Z" fill="#e4d783"/>
<path d="M1244.98,259.91 A87.60,87.60 0 0 1 1273.40,324.50 L1259.00,324.50 A73.20,73.20 0 0 0 1235.25,270.53 Z" fill="#e5d580"/>
<path d="M1247.74,262.56 A87.60,87.60 0 0 1 1273.40,324.50 L1259.00,324.50 A73.20,73.20 0 0 0 1237.56,272.74 Z" fill="#e6d27a"/>
<path d="M1250.39,265.32 A87.60,87.60 0 0 1 1273.40,324.50 L1259.00,324.50 A73.20,73.20 0 0 0 1239.77,275.05 Z" fill="#e5cd72"/>
<path d="M1252.91,268.19 A87.60,87.60 0 0 1 1273.40,324.50 L1259.00,324.50 A73.20,73.20 0 0 0 1241.87,277.45 Z" fill="#e4c86b"/>
<path d="M1255.30,271.17 A87.60,87.60 0 0 1 1273.40,324.50 L1259.00,324.50 A73.20,73.20 0 0 0 1243.87,279.94 Z" fill="#f7ecbe"/>
<path d="M1257.56,274.25 A87.60,87.60 0 0 1 1273.40,324.50 L1259.00,324.50 A73.20,73.20 0 0 0 1245.76,282.51 Z" fill="#f7eab8"/>
<path d="M1259.68,277.43 A87.60,87.60 0 0 1 1273.40,324.50 L1259.00,324.50 A73.20,73.20 0 0 0 1247.54,285.17 Z" fill="#d6aa3a"/>
<path d="M1261.66,280.70 A87.60,87.60 0 0 1 1273.40,324.50 L1259.00,324.50 A73.20,73.20 0 0 0 1249.19,287.90 Z" fill="#d4a738"/>
<path d="M1263.50,284.05 A87.60,87.60 0 0 1 1273.40,324.50 L1259.00,324.50 A73.20,73.20 0 0 0 1250.73,290.70 Z" fill="#d2a536"/>
<path d="M1265.19,287.48 A87.60,87.60 0 0 1 1273.40,324.50 L1259.00,324.50 A73.20,73.20 0 0 0 1252.14,293.56 Z" fill="#cfa233"/>
<path d="M1266.73,290.98 A87.60,87.60 0 0 1 1273.40,324.50 L1259.00,324.50 A73.20,73.20 0 0 0 1253.43,296.49 Z" fill="#cda031"/>
<path d="M1268.12,294.54 A87.60,87.60 0 0 1 1273.40,324.50 L1259.00,324.50 A73.20,73.20 0 0 0 1254.59,299.46 Z" fill="#cb9e2f"/>
<path d="M1269.35,298.16 A87.60,87.60 0 0 1 1273.40,324.50 L1259.00,324.50 A73.20,73.20 0 0 0 1255.61,302.49 Z" fill="#c99b2d"/>
<path d="M1270.42,301.83 A87.60,87.60 0 0 1 1273.40,324.50 L1259.00,324.50 A73.20,73.20 0 0 0 1256.51,305.55 Z" fill="#c7992b"/>
<path d="M1271.32,305.54 A87.60,87.60 0 0 1 1273.40,324.50 L1259.00,324.50 A73.20,73.20 0 0 0 1257.26,308.66 Z" fill="#c4962a"/>
<path d="M1272.07,309.29 A87.60,87.60 0 0 1 1273.40,324.50 L1259.00,324.50 A73.20,73.20 0 0 0 1257.89,311.79 Z" fill="#c19328"/>
<path d="M1272.65,313.07 A87.60,87.60 0 0 1 1273.40,324.50 L1259.00,324.50 A73.20,73.20 0 0 0 1258.37,314.95 Z" fill="#bf9126"/>
<path d="M1273.07,316.87 A87.60,87.60 0 0 1 1273.40,324.50 L1259.00,324.50 A73.20,73.20 0 0 0 1258.72,318.12 Z" fill="#bc8e24"/>
<path d="M1273.32,320.68 A87.60,87.60 0 0 1 1273.40,324.50 L1259.00,324.50 A73.20,73.20 0 0 0 1258.93,321.31 Z" fill="#b98b23"/>
<rect x="1098.20" y="324.50" width="14.400" height="1" fill="#1ee0e8"/>
<rect x="1259.00" y="324.50" width="14.400" height="1" fill="#b88a22"/>
<line x1="1123.3" y1="324.3" x2="1117.3" y2="324.3" stroke="#45d8e4" stroke-width="2.500"/>
<line x1="1131.2" y1="293.0" x2="1125.6" y2="289.8" stroke="#7fe2e4" stroke-width="1.800" stroke-linecap="round"/>
<line x1="1154.3" y1="269.9" x2="1151.0" y2="264.3" stroke="#8ee6e4" stroke-width="1.800" stroke-linecap="round"/>
<line x1="1185.8" y1="261.5" x2="1185.8" y2="255.0" stroke="#96e8e6" stroke-width="1.800" stroke-linecap="round"/>
<line x1="1217.3" y1="269.9" x2="1220.5" y2="264.3" stroke="#d6d896" stroke-width="1.800" stroke-linecap="round"/>
<line x1="1240.4" y1="293.0" x2="1246.0" y2="289.8" stroke="#c8a040" stroke-width="1.800" stroke-linecap="round"/>
<line x1="1248.3" y1="324.3" x2="1254.3" y2="324.3" stroke="#d0a040" stroke-width="2.500"/>
<path d="M1182.52,317.65 L1240.36,288.25 L1190.85,330.18 Z" fill="#6fe6f2"/>
<circle cx="1185.80" cy="324.50" r="7.550" fill="#0c1e38" stroke="#6fe6f2" stroke-width="4.900"/>
</g>
<g id="g2">
<path d="M1185.8,628.0 L1248.2,588.2 A74,74 0 0 0 1236.4,574.0 Z" fill="url(#g2W)" opacity="0.27" filter="url(#blur3)"/>
<path d="M1185.8,628.0 L1248.2,588.2 A74,74 0 0 0 1222.6,563.8 Z" fill="url(#g2W)" opacity="0.27" filter="url(#blur3)"/>
<path d="M1185.8,628.0 L1248.2,588.2 A74,74 0 0 0 1206.8,557.0 Z" fill="url(#g2W)" opacity="0.27" filter="url(#blur3)"/>
<path d="M1185.8,628.0 L1248.2,588.2 A74,74 0 0 0 1189.9,554.1 Z" fill="url(#g2W)" opacity="0.27" filter="url(#blur3)"/>
<path d="M1185.8,628.0 L1248.2,588.2 A74,74 0 0 0 1172.7,555.2 Z" fill="url(#g2W)" opacity="0.27" filter="url(#blur3)"/>
<path d="M1185.8,628.0 L1248.2,588.2 A74,74 0 0 0 1156.3,560.1 Z" fill="url(#g2W)" opacity="0.27" filter="url(#blur3)"/>
<path d="M1088.70,629.00 L1088.70,628.00 A97.10,97.10 0 0 1 1282.90,628.00 L1282.90,629.00" fill="none" stroke="#54cbe1" stroke-width="4.800"/>
<path d="M1098.20,628.00 A87.60,87.60 0 0 1 1273.40,628.00 L1259.00,628.00 A73.20,73.20 0 0 0 1112.60,628.00 Z" fill="#1ee0e8"/>
<path d="M1098.28,624.18 A87.60,87.60 0 0 1 1273.40,628.00 L1259.00,628.00 A73.20,73.20 0 0 0 1112.67,624.81 Z" fill="#1fe0e8"/>
<path d="M1098.53,620.37 A87.60,87.60 0 0 1 1273.40,628.00 L1259.00,628.00 A73.20,73.20 0 0 0 1112.88,621.62 Z" fill="#1fe0e7"/>
<path d="M1098.95,616.57 A87.60,87.60 0 0 1 1273.40,628.00 L1259.00,628.00 A73.20,73.20 0 0 0 1113.23,618.45 Z" fill="#20e0e7"/>
<path d="M1099.53,612.79 A87.60,87.60 0 0 1 1273.40,628.00 L1259.00,628.00 A73.20,73.20 0 0 0 1113.71,615.29 Z" fill="#20e0e7"/>
<path d="M1100.28,609.04 A87.60,87.60 0 0 1 1273.40,628.00 L1259.00,628.00 A73.20,73.20 0 0 0 1114.34,612.16 Z" fill="#21e0e7"/>
<path d="M1101.18,605.33 A87.60,87.60 0 0 1 1273.40,628.00 L1259.00,628.00 A73.20,73.20 0 0 0 1115.09,609.05 Z" fill="#21e0e6"/>
<path d="M1102.25,601.66 A87.60,87.60 0 0 1 1273.40,628.00 L1259.00,628.00 A73.20,73.20 0 0 0 1115.99,605.99 Z" fill="#22e0e6"/>
<path d="M1103.48,598.04 A87.60,87.60 0 0 1 1273.40,628.00 L1259.00,628.00 A73.20,73.20 0 0 0 1117.01,602.96 Z" fill="#22e0e6"/>
<path d="M1104.87,594.48 A87.60,87.60 0 0 1 1273.40,628.00 L1259.00,628.00 A73.20,73.20 0 0 0 1118.17,599.99 Z" fill="#23e0e6"/>
<path d="M1106.41,590.98 A87.60,87.60 0 0 1 1273.40,628.00 L1259.00,628.00 A73.20,73.20 0 0 0 1119.46,597.06 Z" fill="#23e0e5"/>
<path d="M1108.10,587.55 A87.60,87.60 0 0 1 1273.40,628.00 L1259.00,628.00 A73.20,73.20 0 0 0 1120.87,594.20 Z" fill="#24e0e5"/>
<path d="M1109.94,584.20 A87.60,87.60 0 0 1 1273.40,628.00 L1259.00,628.00 A73.20,73.20 0 0 0 1122.41,591.40 Z" fill="#26e0e4"/>
<path d="M1111.92,580.93 A87.60,87.60 0 0 1 1273.40,628.00 L1259.00,628.00 A73.20,73.20 0 0 0 1124.06,588.67 Z" fill="#28e0e3"/>
<path d="M1114.04,577.75 A87.60,87.60 0 0 1 1273.40,628.00 L1259.00,628.00 A73.20,73.20 0 0 0 1125.84,586.01 Z" fill="#2cdfe2"/>
<path d="M1116.30,574.67 A87.60,87.60 0 0 1 1273.40,628.00 L1259.00,628.00 A73.20,73.20 0 0 0 1127.73,583.44 Z" fill="#2edfe0"/>
<path d="M1118.69,571.69 A87.60,87.60 0 0 1 1273.40,628.00 L1259.00,628.00 A73.20,73.20 0 0 0 1129.73,580.95 Z" fill="#32dfdf"/>
<path d="M1121.21,568.82 A87.60,87.60 0 0 1 1273.40,628.00 L1259.00,628.00 A73.20,73.20 0 0 0 1131.83,578.55 Z" fill="#34dfdd"/>
<path d="M1123.86,566.06 A87.60,87.60 0 0 1 1273.40,628.00 L1259.00,628.00 A73.20,73.20 0 0 0 1134.04,576.24 Z" fill="#38dedc"/>
<path d="M1126.62,563.41 A87.60,87.60 0 0 1 1273.40,628.00 L1259.00,628.00 A73.20,73.20 0 0 0 1136.35,574.03 Z" fill="#3adedb"/>
<path d="M1129.49,560.89 A87.60,87.60 0 0 1 1273.40,628.00 L1259.00,628.00 A73.20,73.20 0 0 0 1138.75,571.93 Z" fill="#3fded8"/>
<path d="M1132.47,558.50 A87.60,87.60 0 0 1 1273.40,628.00 L1259.00,628.00 A73.20,73.20 0 0 0 1141.24,569.93 Z" fill="#46ded6"/>
<path d="M1135.55,556.24 A87.60,87.60 0 0 1 1273.40,628.00 L1259.00,628.00 A73.20,73.20 0 0 0 1143.81,568.04 Z" fill="#4dddd2"/>
<path d="M1138.73,554.12 A87.60,87.60 0 0 1 1273.40,628.00 L1259.00,628.00 A73.20,73.20 0 0 0 1146.47,566.26 Z" fill="#54ddd0"/>
<path d="M1142.00,552.14 A87.60,87.60 0 0 1 1273.40,628.00 L1259.00,628.00 A73.20,73.20 0 0 0 1149.20,564.61 Z" fill="#5addcc"/>
<path d="M1145.35,550.30 A87.60,87.60 0 0 1 1273.40,628.00 L1259.00,628.00 A73.20,73.20 0 0 0 1152.00,563.07 Z" fill="#61ddca"/>
<path d="M1148.78,548.61 A87.60,87.60 0 0 1 1273.40,628.00 L1259.00,628.00 A73.20,73.20 0 0 0 1154.86,561.66 Z" fill="#68dcc6"/>
<path d="M1152.28,547.07 A87.60,87.60 0 0 1 1273.40,628.00 L1259.00,628.00 A73.20,73.20 0 0 0 1157.79,560.37 Z" fill="#6fdcc4"/>
<path d="M1155.84,545.68 A87.60,87.60 0 0 1 1273.40,628.00 L1259.00,628.00 A73.20,73.20 0 0 0 1160.76,559.21 Z" fill="#75dcc1"/>
<path d="M1159.46,544.45 A87.60,87.60 0 0 1 1273.40,628.00 L1259.00,628.00 A73.20,73.20 0 0 0 1163.79,558.19 Z" fill="#7bdcbe"/>
<path d="M1163.13,543.38 A87.60,87.60 0 0 1 1273.40,628.00 L1259.00,628.00 A73.20,73.20 0 0 0 1166.85,557.29 Z" fill="#80dcbc"/>
<path d="M1166.84,542.48 A87.60,87.60 0 0 1 1273.40,628.00 L1259.00,628.00 A73.20,73.20 0 0 0 1169.96,556.54 Z" fill="#86dcb9"/>
<path d="M1170.59,541.73 A87.60,87.60 0 0 1 1273.40,628.00 L1259.00,628.00 A73.20,73.20 0 0 0 1173.09,555.91 Z" fill="#8cdcb7"/>
<path d="M1174.37,541.15 A87.60,87.60 0 0 1 1273.40,628.00 L1259.00,628.00 A73.20,73.20 0 0 0 1176.25,555.43 Z" fill="#92dcb4"/>
<path d="M1178.17,540.73 A87.60,87.60 0 0 1 1273.40,628.00 L1259.00,628.00 A73.20,73.20 0 0 0 1179.42,555.08 Z" fill="#97dcb2"/>
<path d="M1181.98,540.48 A87.60,87.60 0 0 1 1273.40,628.00 L1259.00,628.00 A73.20,73.20 0 0 0 1182.61,554.87 Z" fill="#9ddcaf"/>
<path d="M1185.80,540.40 A87.60,87.60 0 0 1 1273.40,628.00 L1259.00,628.00 A73.20,73.20 0 0 0 1185.80,554.80 Z" fill="#a2dcad"/>
<path d="M1189.62,540.48 A87.60,87.60 0 0 1 1273.40,628.00 L1259.00,628.00 A73.20,73.20 0 0 0 1188.99,554.87 Z" fill="#a8dcab"/>
<path d="M1193.43,540.73 A87.60,87.60 0 0 1 1273.40,628.00 L1259.00,628.00 A73.20,73.20 0 0 0 1192.18,555.08 Z" fill="#acdda8"/>
<path d="M1197.23,541.15 A87.60,87.60 0 0 1 1273.40,628.00 L1259.00,628.00 A73.20,73.20 0 0 0 1195.35,555.43 Z" fill="#b2dda6"/>
<path d="M1201.01,541.73 A87.60,87.60 0 0 1 1273.40,628.00 L1259.00,628.00 A73.20,73.20 0 0 0 1198.51,555.91 Z" fill="#b6dda4"/>
<path d="M1204.76,542.48 A87.60,87.60 0 0 1 1273.40,628.00 L1259.00,628.00 A73.20,73.20 0 0 0 1201.64,556.54 Z" fill="#bcdda2"/>
<path d="M1208.47,543.38 A87.60,87.60 0 0 1 1273.40,628.00 L1259.00,628.00 A73.20,73.20 0 0 0 1204.75,557.29 Z" fill="#c0de9f"/>
<path d="M1212.14,544.45 A87.60,87.60 0 0 1 1273.40,628.00 L1259.00,628.00 A73.20,73.20 0 0 0 1207.81,558.19 Z" fill="#c6de9d"/>
<path d="M1215.76,545.68 A87.60,87.60 0 0 1 1273.40,628.00 L1259.00,628.00 A73.20,73.20 0 0 0 1210.84,559.21 Z" fill="#cade9b"/>
<path d="M1219.32,547.07 A87.60,87.60 0 0 1 1273.40,628.00 L1259.00,628.00 A73.20,73.20 0 0 0 1213.81,560.37 Z" fill="#cede98"/>
<path d="M1222.82,548.61 A87.60,87.60 0 0 1 1273.40,628.00 L1259.00,628.00 A73.20,73.20 0 0 0 1216.74,561.66 Z" fill="#d2dd95"/>
<path d="M1226.25,550.30 A87.60,87.60 0 0 1 1273.40,628.00 L1259.00,628.00 A73.20,73.20 0 0 0 1219.60,563.07 Z" fill="#d6dd93"/>
<path d="M1229.60,552.14 A87.60,87.60 0 0 1 1273.40,628.00 L1259.00,628.00 A73.20,73.20 0 0 0 1222.40,564.61 Z" fill="#dadc90"/>
<path d="M1232.87,554.12 A87.60,87.60 0 0 1 1273.40,628.00 L1259.00,628.00 A73.20,73.20 0 0 0 1225.13,566.26 Z" fill="#dedc8d"/>
<path d="M1236.05,556.24 A87.60,87.60 0 0 1 1273.40,628.00 L1259.00,628.00 A73.20,73.20 0 0 0 1227.79,568.04 Z" fill="#e1db8a"/>
<path d="M1239.13,558.50 A87.60,87.60 0 0 1 1273.40,628.00 L1259.00,628.00 A73.20,73.20 0 0 0 1230.36,569.93 Z" fill="#e2d987"/>
<path d="M1242.11,560.89 A87.60,87.60 0 0 1 1273.40,628.00 L1259.00,628.00 A73.20,73.20 0 0 0 1232.85,571.93 Z" fill="#e4d783"/>
<path d="M1244.98,563.41 A87.60,87.60 0 0 1 1273.40,628.00 L1259.00,628.00 A73.20,73.20 0 0 0 1235.25,574.03 Z" fill="#e5d580"/>
<path d="M1247.74,566.06 A87.60,87.60 0 0 1 1273.40,628.00 L1259.00,628.00 A73.20,73.20 0 0 0 1237.56,576.24 Z" fill="#e6d27a"/>
<path d="M1250.39,568.82 A87.60,87.60 0 0 1 1273.40,628.00 L1259.00,628.00 A73.20,73.20 0 0 0 1239.77,578.55 Z" fill="#e5cd72"/>
<path d="M1252.91,571.69 A87.60,87.60 0 0 1 1273.40,628.00 L1259.00,628.00 A73.20,73.20 0 0 0 1241.87,580.95 Z" fill="#e4c86b"/>
<path d="M1255.30,574.67 A87.60,87.60 0 0 1 1273.40,628.00 L1259.00,628.00 A73.20,73.20 0 0 0 1243.87,583.44 Z" fill="#f7ecbe"/>
<path d="M1257.56,577.75 A87.60,87.60 0 0 1 1273.40,628.00 L1259.00,628.00 A73.20,73.20 0 0 0 1245.76,586.01 Z" fill="#f7eab8"/>
<path d="M1259.68,580.93 A87.60,87.60 0 0 1 1273.40,628.00 L1259.00,628.00 A73.20,73.20 0 0 0 1247.54,588.67 Z" fill="#d6aa3a"/>
<path d="M1261.66,584.20 A87.60,87.60 0 0 1 1273.40,628.00 L1259.00,628.00 A73.20,73.20 0 0 0 1249.19,591.40 Z" fill="#d4a738"/>
<path d="M1263.50,587.55 A87.60,87.60 0 0 1 1273.40,628.00 L1259.00,628.00 A73.20,73.20 0 0 0 1250.73,594.20 Z" fill="#d2a536"/>
<path d="M1265.19,590.98 A87.60,87.60 0 0 1 1273.40,628.00 L1259.00,628.00 A73.20,73.20 0 0 0 1252.14,597.06 Z" fill="#cfa233"/>
<path d="M1266.73,594.48 A87.60,87.60 0 0 1 1273.40,628.00 L1259.00,628.00 A73.20,73.20 0 0 0 1253.43,599.99 Z" fill="#cda031"/>
<path d="M1268.12,598.04 A87.60,87.60 0 0 1 1273.40,628.00 L1259.00,628.00 A73.20,73.20 0 0 0 1254.59,602.96 Z" fill="#cb9e2f"/>
<path d="M1269.35,601.66 A87.60,87.60 0 0 1 1273.40,628.00 L1259.00,628.00 A73.20,73.20 0 0 0 1255.61,605.99 Z" fill="#c99b2d"/>
<path d="M1270.42,605.33 A87.60,87.60 0 0 1 1273.40,628.00 L1259.00,628.00 A73.20,73.20 0 0 0 1256.51,609.05 Z" fill="#c7992b"/>
<path d="M1271.32,609.04 A87.60,87.60 0 0 1 1273.40,628.00 L1259.00,628.00 A73.20,73.20 0 0 0 1257.26,612.16 Z" fill="#c4962a"/>
<path d="M1272.07,612.79 A87.60,87.60 0 0 1 1273.40,628.00 L1259.00,628.00 A73.20,73.20 0 0 0 1257.89,615.29 Z" fill="#c19328"/>
<path d="M1272.65,616.57 A87.60,87.60 0 0 1 1273.40,628.00 L1259.00,628.00 A73.20,73.20 0 0 0 1258.37,618.45 Z" fill="#bf9126"/>
<path d="M1273.07,620.37 A87.60,87.60 0 0 1 1273.40,628.00 L1259.00,628.00 A73.20,73.20 0 0 0 1258.72,621.62 Z" fill="#bc8e24"/>
<path d="M1273.32,624.18 A87.60,87.60 0 0 1 1273.40,628.00 L1259.00,628.00 A73.20,73.20 0 0 0 1258.93,624.81 Z" fill="#b98b23"/>
<rect x="1098.20" y="628.00" width="14.400" height="1" fill="#1ee0e8"/>
<rect x="1259.00" y="628.00" width="14.400" height="1" fill="#b88a22"/>
<line x1="1123.3" y1="627.8" x2="1117.3" y2="627.8" stroke="#45d8e4" stroke-width="2.500"/>
<line x1="1131.2" y1="596.5" x2="1125.6" y2="593.2" stroke="#7fe2e4" stroke-width="1.800" stroke-linecap="round"/>
<line x1="1154.3" y1="573.4" x2="1151.0" y2="567.8" stroke="#8ee6e4" stroke-width="1.800" stroke-linecap="round"/>
<line x1="1185.8" y1="565.0" x2="1185.8" y2="558.5" stroke="#96e8e6" stroke-width="1.800" stroke-linecap="round"/>
<line x1="1217.3" y1="573.4" x2="1220.5" y2="567.8" stroke="#d6d896" stroke-width="1.800" stroke-linecap="round"/>
<line x1="1240.4" y1="596.5" x2="1246.0" y2="593.2" stroke="#c8a040" stroke-width="1.800" stroke-linecap="round"/>
<line x1="1248.3" y1="627.8" x2="1254.3" y2="627.8" stroke="#d0a040" stroke-width="2.500"/>
<path d="M1182.53,621.14 L1240.42,591.85 L1190.84,633.69 Z" fill="#6fe6f2"/>
<circle cx="1185.80" cy="628.00" r="7.550" fill="#0c1e38" stroke="#6fe6f2" stroke-width="4.900"/>
</g>
<!--GAUGES_END-->
<!--CUBES_START-->
<g id="cubes1">
<path d="M1247.4,260.4 L1264.1,243.0" fill="none" stroke="url(#ga1)" stroke-width="2.2" stroke-linecap="round"/>
<polygon points="1268.9,237.9 1265.9,247.5 1264.1,243.0 1259.4,241.3" fill="#d2b662"/>
<path d="M1256.0,273.0 L1277.7,253.8" fill="none" stroke="url(#ga2)" stroke-width="2.2" stroke-linecap="round"/>
<polygon points="1283.0,249.2 1279.2,258.5 1277.7,253.8 1273.3,251.8" fill="#d2b662"/>
<polygon points="1247.4,201.3 1260.0,209.0 1247.4,215.4 1235.2,209.0" fill="#d4b258"/>
<polygon points="1235.2,209.0 1247.4,215.4 1247.4,229.7 1235.2,222.2" fill="#c4a048"/>
<polygon points="1247.4,215.4 1260.0,209.0 1260.0,222.2 1247.4,229.7" fill="#a88838"/>
<path d="M1235.2,209.0 L1247.4,215.4 L1260.0,209.0 M1247.4,215.4 L1247.4,229.7" fill="none" stroke="#7a6428" stroke-width="0.700"/>
<polygon points="1288.4,208.6 1306.0,218.3 1288.8,228.1 1271.8,218.3" fill="#f2d870"/>
<polygon points="1271.8,218.3 1288.8,228.1 1288.8,247.0 1271.8,236.9" fill="#ecd06a"/>
<polygon points="1288.8,228.1 1306.0,218.3 1306.0,236.9 1288.8,247.0" fill="#cfa942"/>
<path d="M1271.8,218.3 L1288.8,228.1 L1306.0,218.3 M1288.8,228.1 L1288.8,247.0" fill="none" stroke="#8a6e28" stroke-width="0.700"/>
<polygon points="1303.0,252.5 1319.7,261.3 1303.0,270.1 1286.8,261.3" fill="#e6c662"/>
<polygon points="1286.8,261.3 1303.0,270.1 1303.0,289.0 1286.8,280.3" fill="#d8b450"/>
<polygon points="1303.0,270.1 1319.7,261.3 1319.7,280.3 1303.0,289.0" fill="#c09a3c"/>
<path d="M1286.8,261.3 L1303.0,270.1 L1319.7,261.3 M1303.0,270.1 L1303.0,289.0" fill="none" stroke="#806626" stroke-width="0.700"/>
<polygon points="1310.3,297.9 1323.0,305.3 1310.3,312.1 1298.2,305.3" fill="#c4a450"/>
<polygon points="1298.2,305.3 1310.3,312.1 1310.3,325.4 1298.2,318.0" fill="#b49440"/>
<polygon points="1310.3,312.1 1323.0,305.3 1323.0,318.0 1310.3,325.4" fill="#9c7e34"/>
<path d="M1298.2,305.3 L1310.3,312.1 L1323.0,305.3 M1310.3,312.1 L1310.3,325.4" fill="none" stroke="#6c5822" stroke-width="0.700"/>
</g>
<g id="cubes2">
<path d="M1135.5,513.2 Q1150.0,505.0 1161.3,504.6" fill="none" stroke="url(#ta0)" stroke-width="2.4" stroke-linecap="round"/>
<polygon points="1169.8,504.3 1159.5,509.9 1161.3,504.6 1159.1,499.4" fill="#3ba6ba"/>
<path d="M1205.2,502.8 L1215.7,505.3" fill="none" stroke="#3ba6ba" stroke-width="2.4" stroke-linecap="round"/>
<polygon points="1224.0,507.2 1212.6,509.9 1215.7,505.3 1215.0,499.7" fill="#3ba6ba"/>
<path d="M1257.2,522.7 L1265.0,528.9" fill="none" stroke="#3ba6ba" stroke-width="2.4" stroke-linecap="round"/>
<polygon points="1271.6,534.2 1260.1,531.7 1265.0,528.9 1266.7,523.5" fill="#3ba6ba"/>
<path d="M1293.1,561.9 L1298.2,570.5" fill="none" stroke="#3ba6ba" stroke-width="2.4" stroke-linecap="round"/>
<polygon points="1302.6,577.8 1292.7,571.5 1298.2,570.5 1301.7,566.1" fill="#3ba6ba"/>
<path d="M1311.5,612.8 L1311.5,619.1" fill="none" stroke="#3ba6ba" stroke-width="2.4" stroke-linecap="round"/>
<polygon points="1311.5,627.6 1306.2,617.1 1311.5,619.1 1316.8,617.1" fill="#3ba6ba"/>
<polygon points="1172.7,493.9 1180.9,484.4 1204.8,485.0 1196.4,492.1" fill="#68c4d0"/>
<polygon points="1172.7,493.9 1196.4,492.1 1196.4,516.9 1172.7,516.9" fill="#4aa8b8"/>
<polygon points="1196.4,492.1 1204.8,485.0 1204.8,509.8 1196.4,516.9" fill="#2e8294"/>
<polygon points="1230.7,499.9 1241.3,494.3 1262.8,505.4 1252.4,511.4" fill="#62c0cc"/>
<polygon points="1230.7,499.9 1252.4,511.4 1244.0,530.9 1222.3,520.5" fill="#4aaabb"/>
<polygon points="1252.4,511.4 1262.8,505.4 1255.0,525.3 1244.0,530.9" fill="#2c7f90"/>
<polygon points="1262.8,546.4 1281.1,528.7 1294.9,547.5 1278.9,563.0" fill="#f0d068"/>
<polygon points="1281.1,528.7 1292.2,528.0 1306.4,545.3 1294.9,547.5" fill="#e6c258"/>
<polygon points="1294.9,547.5 1306.4,545.3 1290.4,564.1 1278.9,563.0" fill="#b8902e"/>
<path d="M1281.100,528.700 L1294.900,547.500 L1306.400,545.300 M1294.900,547.500 L1278.900,563" fill="none" stroke="#6e5a22" stroke-width="0.800"/>
<polygon points="1289.3,585.1 1314.8,578.9 1317.4,600.1 1296.4,606.8" fill="#e6c460"/>
<polygon points="1314.8,578.9 1321.9,580.7 1327.0,602.8 1317.4,600.1" fill="#d4b04c"/>
<polygon points="1296.4,606.8 1317.4,600.1 1327.0,602.8 1305.9,612.8" fill="#a8842c"/>
<path d="M1314.800,578.900 L1317.400,600.100 L1327,602.800 M1317.400,600.100 L1296.400,606.800" fill="none" stroke="#6e5a22" stroke-width="0.800"/>
</g>
<!--CUBES_END-->
<!--GAUGES-->
<!-- lightning icon -->
<polygon points="117.400,136.500 98,167.800 112.600,168.700 110.100,190 129.900,158.200 114.800,157.200" fill="#20dce4"/>
<!-- shield icon -->
<path d="M518.900,140.200 C512,144.500 505,146.500 498.200,146.800 C498.500,165 504,178 518.900,187 C533.800,178 539.300,165 539.600,146.800 C532.800,146.500 525.800,144.500 518.900,140.200 Z" fill="#0c2244" stroke="url(#shG)" stroke-width="4" stroke-linejoin="round"/>
<path d="M518.600,145.200 C513,148 507,149.600 502,149.900 C502.500,164 507,175.500 518.600,183.400 Z" fill="url(#shF)"/>
<!--ICONS-->

<!-- text -->
<g id="labels" opacity="0.999">
<text class="b w" x="188" y="87" font-size="46.500" textLength="1002" lengthAdjust="spacingAndGlyphs">BITCOIN DIFFICULTY ADJUSTMENT MECHANISM</text>
<text class="b w" x="144" y="174.500" font-size="36" textLength="140" lengthAdjust="spacingAndGlyphs">Hashrate</text>
<text class="b w" x="556" y="174.500" font-size="36" textLength="250.500" lengthAdjust="spacingAndGlyphs">Difficulty Target</text>
<text class="b w" x="988" y="174.500" font-size="36" textLength="330" lengthAdjust="spacingAndGlyphs">Block Discovery Rate</text>
<text x="607" y="220" font-size="27" fill="#e8cc78" textLength="141.700" lengthAdjust="spacingAndGlyphs">Same target</text>
<text class="b w" x="807" y="279.600" font-size="25.500" textLength="230" lengthAdjust="spacingAndGlyphs">**Next adjustment**</text>
<text class="b" x="316.300" y="460.700" font-size="25.500" fill="#0c2340" textLength="199.500" lengthAdjust="spacingAndGlyphs">MORE HASHRATE</text>
<text x="396.400" y="360.700" font-size="17.500" fill="#4ad0e0" textLength="40.300" lengthAdjust="spacingAndGlyphs">ASIC</text>
<text x="342.700" y="658.200" font-size="17.500" fill="#4ad0e0" textLength="40.800" lengthAdjust="spacingAndGlyphs">ASIC</text>
<text x="1098" y="380" font-size="22" fill="#54d6e8" stroke="#54d6e8" stroke-width="1" textLength="177.800" lengthAdjust="spacingAndGlyphs">FASTER BLOCKS</text>
<text x="1117" y="413.300" font-size="23.700" fill="#f0f2f4" stroke="#f0f2f4" stroke-width="0.300" textLength="148.700" lengthAdjust="spacingAndGlyphs">Time &lt; 10 min</text>
<text x="1081.800" y="683.600" font-size="23.700" fill="#54d6e8" stroke="#54d6e8" stroke-width="1" textLength="222.200" lengthAdjust="spacingAndGlyphs">RETURNS TO 10 MIN</text>
<text x="829.500" y="731" font-size="24" fill="url(#txtGold)" stroke="#e6c050" stroke-width="0.400" textLength="172" lengthAdjust="spacingAndGlyphs">**Difficulty UP**</text>
</g>
</svg>
</body>
</html>
